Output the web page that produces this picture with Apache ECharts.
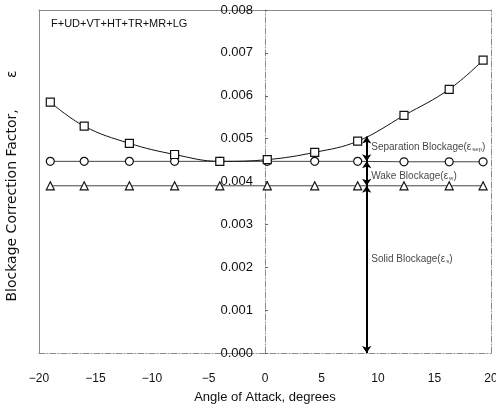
<!DOCTYPE html>
<html><head><meta charset="utf-8">
<script src="https://cdn.jsdelivr.net/npm/echarts@6/dist/echarts.min.js"></script>
<style>html,body{margin:0;padding:0;background:#fff}#c{width:496px;height:412px}</style>
</head><body><div id="c"></div>
<script>
const angles = [-19, -16, -12, -8, -4, 0.2, 4.4, 8.2, 12.3, 16.3, 19.3];
const totalBlockage = [0.00585, 0.00529, 0.00489, 0.00463, 0.00447, 0.00451, 0.00468, 0.00494, 0.00554, 0.00615, 0.00683];
const wakePlusSolid = [0.00447, 0.00447, 0.00447, 0.00447, 0.00447, 0.00447, 0.00447, 0.00447, 0.00446, 0.00446, 0.00446];
const solidBlockage = [0.0039, 0.0039, 0.0039, 0.0039, 0.0039, 0.0039, 0.0039, 0.0039, 0.0039, 0.0039, 0.0039];
const arrowX = 9;
const arrowLevels = [0, 0.0039, 0.00447, 0.00505];
const labelX = 9.4;
const labelY = [0.0048, 0.00412, 0.00218];
const labelMain = ['Separation Blockage(ε', 'Wake Blockage(ε', 'Solid Blockage(ε'];
const labelSub = ['sep', 'w', 's'];

const zip = (xs, ys) => xs.map((x, i) => [x, ys[i]]);
const FONT = 'Liberation Sans, Arial, sans-serif';
const frame = { color: '#8a8a8a', width: 1 };
const GRID_LEFT = 39, GRID_RIGHT = 5, W = 496;
const X_MIN = -20, X_MAX = 20;
// place the labelled y axis at x = 0
const yAxisOffset = -((0 - X_MIN) / (X_MAX - X_MIN)) * (W - GRID_LEFT - GRID_RIGHT);

const arrowData = [];
for (let i = 0; i < arrowLevels.length - 1; i++) {
  arrowData.push({ coords: [[arrowX, arrowLevels[i]], [arrowX, arrowLevels[i + 1]]] });
}
const labelData = labelY.map((y, i) => ({ value: [labelX, y], main: labelMain[i], sub: labelSub[i] }));

const chart = echarts.init(document.getElementById('c'), null, { renderer: 'canvas' });
chart.setOption({
  animation: false,
  backgroundColor: '#fff',
  title: {
    text: 'F+UD+VT+HT+TR+MR+LG', left: 46, top: 13,
    textStyle: { fontFamily: FONT, fontSize: 11, fontWeight: 'normal', color: '#111' }
  },
  grid: { left: GRID_LEFT, right: GRID_RIGHT, top: 10, bottom: 59, outerBoundsMode: 'none', containLabel: false },
  xAxis: [{
    type: 'value', min: X_MIN, max: X_MAX, interval: 5, position: 'bottom',
    axisLine: { onZero: false, lineStyle: { color: '#8a8a8a', type: [6, 2, 1, 2] } },
    axisTick: { show: false },
    axisLabel: { margin: 20, fontFamily: FONT, fontSize: 12, color: '#111', formatter: v => (v < 0 ? '\u2212' + Math.abs(v) : String(v)) },
    splitLine: { show: false },
    name: 'Angle of Attack, degrees', nameLocation: 'middle', nameGap: 38,
    nameTextStyle: { fontFamily: FONT, fontSize: 13, color: '#111' }
  }, {
    type: 'value', min: X_MIN, max: X_MAX, interval: 5, position: 'top',
    axisLine: { onZero: false, lineStyle: frame },
    axisTick: { show: false }, axisLabel: { show: false }, splitLine: { show: false }
  }],
  yAxis: [{
    type: 'value', min: 0, max: 0.008, interval: 0.001, position: 'left', offset: yAxisOffset,
    axisLine: { onZero: false, lineStyle: { color: '#8a8a8a', type: [6, 2, 1, 2] } },
    axisTick: { show: true, inside: true, length: 3, lineStyle: { color: '#666' } },
    axisLabel: { margin: 12, fontFamily: FONT, fontSize: 13, color: '#111', formatter: v => v.toFixed(3) },
    splitLine: { show: false }
  }, {
    type: 'value', min: 0, max: 0.008, position: 'left',
    axisLine: { show: true, onZero: false, lineStyle: frame },
    axisTick: { show: false }, axisLabel: { show: false }, splitLine: { show: false },
    name: 'Blockage Correction Factor,       ε', nameLocation: 'middle', nameGap: 20, nameRotate: 90,
    nameTextStyle: { fontFamily: 'DejaVu Sans, sans-serif', fontSize: 14, color: '#111', padding: [0, 9, 0, 0] }
  }, {
    type: 'value', min: 0, max: 0.008, position: 'right',
    axisLine: { show: true, onZero: false, lineStyle: { color: '#8a8a8a', type: [6, 2, 1, 2] } },
    axisTick: { show: false }, axisLabel: { show: false }, splitLine: { show: false }
  }],
  series: [{
    type: 'line', data: zip(angles, solidBlockage), smooth: false,
    symbol: 'triangle', symbolSize: 8,
    lineStyle: { color: '#444', width: 1 },
    itemStyle: { color: '#fff', borderColor: '#111', borderWidth: 1.2 }, z: 3
  }, {
    type: 'line', data: zip(angles, wakePlusSolid), smooth: false,
    symbol: 'circle', symbolSize: 8,
    lineStyle: { color: '#444', width: 1 },
    itemStyle: { color: '#fff', borderColor: '#111', borderWidth: 1.2 }, z: 3
  }, {
    type: 'line', data: zip(angles, totalBlockage), smooth: 0.4,
    symbol: 'rect', symbolSize: 8,
    lineStyle: { color: '#111', width: 1 },
    itemStyle: { color: '#fff', borderColor: '#111', borderWidth: 1.2 }, z: 4
  }, {
    type: 'lines', coordinateSystem: 'cartesian2d', data: arrowData,
    symbol: ['arrow', 'arrow'], symbolSize: 7,
    lineStyle: { color: '#000', width: 2, opacity: 1 }, z: 5
  }, {
    type: 'scatter', data: labelData, symbolSize: 0, z: 6,
    label: {
      show: true, position: 'right', distance: 0,
      formatter: p => '{m|' + p.data.main + '}{s|' + p.data.sub + '}{m|)}',
      rich: {
        m: { fontFamily: FONT, fontSize: 10, color: '#111' },
        s: { fontFamily: FONT, fontSize: 6, color: '#111', verticalAlign: 'bottom', padding: [4, 0, 0, 1] }
      }
    }
  }]
});
</script></body></html>
